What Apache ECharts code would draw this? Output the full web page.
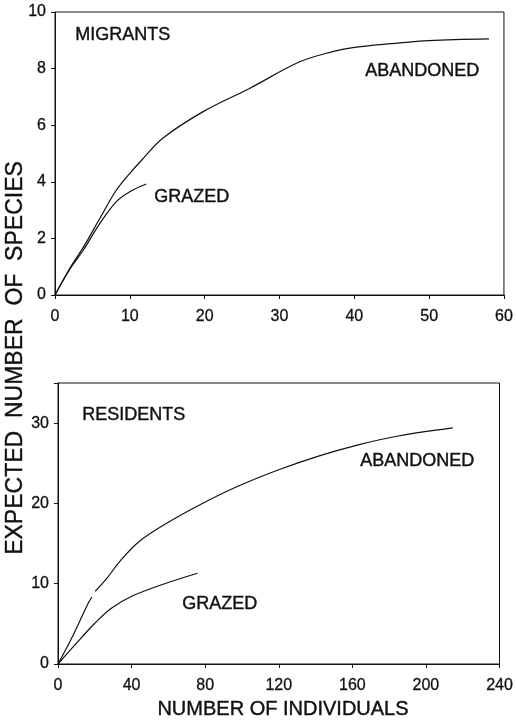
<!DOCTYPE html>
<html>
<head>
<meta charset="utf-8">
<script src="https://cdn.jsdelivr.net/npm/echarts@6/dist/echarts.min.js"></script>
<style>html,body{margin:0;padding:0;background:#fff}#c{width:516px;height:721px}</style>
</head>
<body>
<div id="c"></div>
<script>
// ---- data ----
const migAbandonedX = [0, 2, 3.8, 6, 8.2, 10, 11.6, 14.4, 19.8, 26, 32.7, 37.1, 39.8, 45, 50, 58];
const migAbandonedY = [0, 0.95, 1.69, 2.71, 3.71, 4.3, 4.77, 5.54, 6.48, 7.3, 8.24, 8.6, 8.74, 8.88, 8.99, 9.05];
const migGrazedX = [0, 2, 3.8, 6, 8.2, 10, 12.2];
const migGrazedY = [0, 0.92, 1.59, 2.53, 3.3, 3.65, 3.92];

const resAbandonedX = [0, 7.4, 16.4, 18.4, 19.3, 20.2, 26.3, 34.4, 44.3, 58.8, 78.5, 98.4, 120, 141.6, 163.2, 184.9, 214.6];
const resAbandonedY = [0, 3.2, 7.56, 8.35, null, 9.05, 10.6, 13.0, 15.3, 17.5, 20.0, 22.2, 24.2, 25.9, 27.3, 28.4, 29.4];
const resGrazedX = [0, 9.2, 20, 29, 39.8, 56, 75.8];
const resGrazedY = [0, 2.37, 5.07, 6.94, 8.4, 9.84, 11.3];

const topXTicks = [0, 10, 20, 30, 40, 50, 60];
const topYTicks = [0, 2, 4, 6, 8, 10];
const botXTicks = [0, 40, 80, 120, 160, 200, 240];
const botYTicks = [0, 10, 20, 30];

const panelTitles = ['MIGRANTS', 'RESIDENTS'];
const curveNames = ['ABANDONED', 'GRAZED'];
const yTitle = 'EXPECTED  NUMBER  OF  SPECIES';
const xTitle = 'NUMBER OF INDIVIDUALS';

// ---- chart ----
const FONT = '"Liberation Sans", Arial, Helvetica, sans-serif';
const INK = '#111';
const pair = (xs, ys) => xs.map((x, i) => [x, ys[i] === null ? '-' : ys[i]]);

function xAx(idx, ticks) {
  return {
    type: 'value', gridIndex: idx,
    min: ticks[0], max: ticks[ticks.length - 1], interval: ticks[1] - ticks[0],
    axisLine: { show: true, lineStyle: { color: INK, width: 1 } },
    axisTick: { show: true, inside: false, length: 4, lineStyle: { color: INK } },
    axisLabel: { color: INK, fontFamily: FONT, fontSize: 16, margin: 14,
      textBorderColor: INK, textBorderWidth: 0.3 },
    splitLine: { show: false }
  };
}
function yAx(idx, ticks, max) {
  return {
    type: 'value', gridIndex: idx,
    min: ticks[0], max: max, interval: ticks[1] - ticks[0],
    axisLine: { show: true, lineStyle: { color: INK, width: 1 } },
    axisTick: { show: true, inside: false, length: 4, lineStyle: { color: INK } },
    axisLabel: { color: INK, fontFamily: FONT, fontSize: 16, margin: 9,
      textBorderColor: INK, textBorderWidth: 0.3,
      formatter: v => (ticks.indexOf(v) >= 0 ? String(v) : '') },
    splitLine: { show: false }
  };
}
function lineSeries(idx, data) {
  return {
    type: 'line', xAxisIndex: idx, yAxisIndex: idx, data: data,
    smooth: 0.35, showSymbol: false, connectNulls: false,
    lineStyle: { color: INK, width: 1.2 }, silent: true, animation: false
  };
}
function label(x, y, text, size, extra) {
  return Object.assign({ type: 'text', left: x, top: y,
    style: { text: text, font: size + 'px ' + FONT, fill: INK, stroke: INK, lineWidth: 0.4 } }, extra || {});
}

const chart = echarts.init(document.getElementById('c'), null, { renderer: 'canvas' });
chart.setOption({
  backgroundColor: '#fff',
  animation: false,
  grid: [
    { left: 55, top: 12, width: 450, height: 283, show: true, borderColor: INK, borderWidth: 1, backgroundColor: 'transparent' },
    { left: 58, top: 383, width: 444, height: 281, show: true, borderColor: INK, borderWidth: 1, backgroundColor: 'transparent' }
  ],
  xAxis: [xAx(0, topXTicks), xAx(1, botXTicks)],
  yAxis: [yAx(0, topYTicks, topYTicks[topYTicks.length - 1]), yAx(1, botYTicks, 35)],
  series: [
    lineSeries(0, pair(migAbandonedX, migAbandonedY)),
    lineSeries(0, pair(migGrazedX, migGrazedY)),
    lineSeries(1, pair(resAbandonedX, resAbandonedY)),
    lineSeries(1, pair(resGrazedX, resGrazedY))
  ],
  graphic: [
    label(75, 26, panelTitles[0], 18),
    label(365, 62, curveNames[0], 18),
    label(154, 188, curveNames[1], 18),
    label(82, 406, panelTitles[1], 18),
    label(360, 452, curveNames[0], 18),
    label(182, 595, curveNames[1], 18),
    { type: 'text', x: 283, y: 709, style: { text: xTitle, font: '20px ' + FONT, fill: INK, stroke: INK, lineWidth: 0.4, textAlign: 'center', textVerticalAlign: 'middle' } },
    { type: 'text', x: 16, y: 358, rotation: Math.PI / 2, style: { text: yTitle, font: '23px ' + FONT, fill: INK, stroke: INK, lineWidth: 0.4, textAlign: 'center', textVerticalAlign: 'middle' } }
  ]
});
</script>
</body>
</html>
